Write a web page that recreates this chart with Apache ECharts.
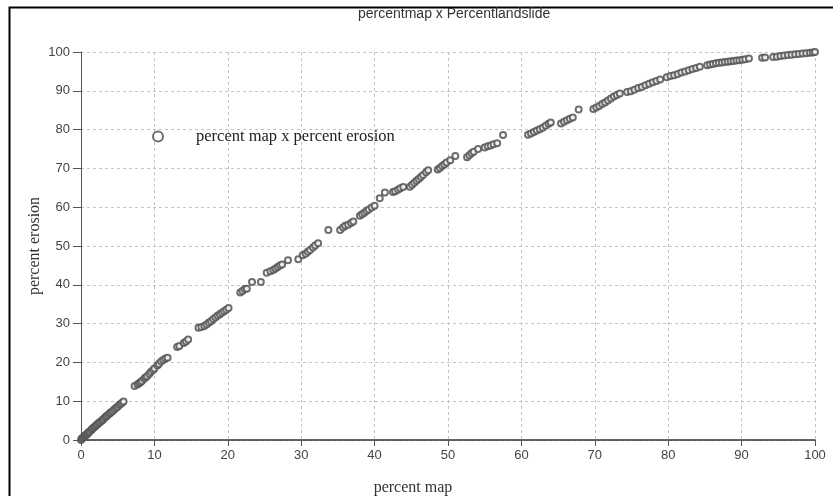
<!DOCTYPE html>
<html>
<head>
<meta charset="utf-8">
<style>
  html, body { margin: 0; padding: 0; background: #fff; }
  #chart { width: 833px; height: 496px; }
</style>
<script src="https://cdn.jsdelivr.net/npm/echarts@6/dist/echarts.min.js"></script>
</head>
<body>
<div id="chart"></div>
<script>
// percent map (x) vs percent erosion (y)
var percentMap = [
  0, 0.1, 0.2, 0.3, 0.4, 0.5, 0.6, 0.7, 0.8, 0.9, 1.0, 1.1, 1.2, 1.4, 1.5, 1.6, 1.8, 1.9, 2.1, 2.2,
  2.4, 2.5, 2.7, 2.9, 3.0, 3.2, 3.4, 3.5, 3.7, 3.9, 4.0, 4.2, 4.4, 4.6, 4.8, 5.0, 5.2, 5.4, 5.6, 5.8,
  7.3, 7.7, 7.9, 8.1, 8.3, 8.6, 8.8, 9.0, 9.3, 9.5, 9.8, 10.0, 10.4, 10.6, 10.9, 11.2, 11.5, 11.8,
  13.1, 13.4, 14.0, 14.3, 14.6,
  16.0, 16.4, 16.8, 17.1, 17.4, 17.7, 18.0, 18.3, 18.6, 18.9, 19.2, 19.5, 19.8, 20.1,
  21.7, 22.0, 22.3, 22.6, 23.3, 24.5,
  25.3, 25.8, 26.2, 26.5, 26.8, 27.1, 27.4, 28.2,
  29.6, 30.2, 30.6, 30.9, 31.2, 31.6, 31.9, 32.3,
  33.7, 35.3, 35.7, 36.0, 36.4, 36.8, 37.1,
  38.0, 38.3, 38.6, 38.9, 39.2, 39.6, 40.0,
  40.7, 41.4, 42.5, 42.8, 43.2, 43.5, 43.9,
  44.8, 45.1, 45.4, 45.7, 46.0, 46.3, 46.6, 47.0, 47.3,
  48.6, 48.9, 49.2, 49.5, 49.8, 50.3, 51.0,
  52.6, 52.9, 53.2, 53.5, 54.1,
  55.0, 55.4, 55.8, 56.2, 56.7, 57.5,
  60.9, 61.3, 61.7, 62.1, 62.5, 62.9, 63.3, 63.7, 64.0,
  65.4, 65.8, 66.2, 66.6, 67.0, 67.8,
  69.8, 70.2, 70.6, 71.0, 71.4, 71.8, 72.2, 72.6, 73.0, 73.4,
  74.4, 74.9, 75.4, 75.9, 76.4, 76.9, 77.4, 77.9, 78.4, 78.9,
  79.8, 80.3, 80.8, 81.3, 81.8, 82.3, 82.8, 83.3, 83.8, 84.3,
  85.3, 85.7, 86.1, 86.5, 86.9, 87.3, 87.7, 88.1, 88.5, 88.9, 89.3, 89.7, 90.1, 90.5, 91.0,
  92.8, 93.2,
  94.3, 94.8, 95.3, 95.8, 96.3, 96.8, 97.3, 97.8, 98.3, 98.8, 99.3, 99.7, 100
];
var percentErosion = [
  0, 0.3, 0.5, 0.6, 0.8, 1.0, 1.2, 1.3, 1.5, 1.7, 1.9, 2.1, 2.2, 2.6, 2.8, 3.0, 3.3, 3.5, 3.8, 4.0,
  4.3, 4.5, 4.8, 5.1, 5.3, 5.7, 6.0, 6.2, 6.5, 6.8, 7.0, 7.3, 7.6, 8.0, 8.3, 8.6, 9.0, 9.3, 9.6, 9.9,
  13.9, 14.3, 14.6, 14.9, 15.2, 15.8, 16.1, 16.4, 17.0, 17.5, 18.0, 18.4, 19.2, 19.6, 20.2, 20.6, 21.0, 21.2,
  24.0, 24.2, 25.0, 25.4, 25.9,
  28.9, 29.1, 29.4, 29.8, 30.2, 30.6, 31.1, 31.6, 32.0, 32.4, 32.8, 33.2, 33.6, 34.0,
  38.0, 38.4, 38.9, 39.0, 40.7, 40.7,
  43.1, 43.5, 43.8, 44.2, 44.6, 45.0, 45.2, 46.3,
  46.6, 47.6, 48.0, 48.5, 49.0, 49.6, 50.1, 50.7,
  54.1, 54.1, 54.8, 55.2, 55.5, 55.9, 56.3,
  57.8, 58.2, 58.6, 59.0, 59.4, 59.9, 60.4,
  62.3, 63.8, 63.9, 64.1, 64.5, 64.9, 65.2,
  65.3, 65.8, 66.3, 66.8, 67.3, 67.8, 68.3, 69.0, 69.5,
  69.7, 70.1, 70.6, 71.0, 71.5, 72.1, 73.2,
  72.9, 73.4, 73.9, 74.3, 75.0,
  75.4, 75.7, 75.9, 76.2, 76.5, 78.6,
  78.7, 79.0, 79.4, 79.8, 80.1, 80.5, 81.0, 81.5, 81.8,
  81.6, 82.0, 82.4, 82.8, 83.1, 85.2,
  85.3, 85.7, 86.1, 86.6, 87.0, 87.5, 88.0, 88.5, 88.9, 89.3,
  89.7, 89.9, 90.3, 90.7, 91.0, 91.4, 91.8, 92.2, 92.5, 92.9,
  93.5, 93.8, 94.0, 94.3, 94.7, 95.0, 95.3, 95.6, 95.9, 96.2,
  96.6, 96.8, 96.9, 97.1, 97.2, 97.3, 97.4, 97.5, 97.6, 97.7, 97.8, 97.9, 98.0, 98.1, 98.3,
  98.5, 98.6,
  98.7, 98.8, 99.0, 99.1, 99.2, 99.3, 99.4, 99.5, 99.6, 99.7, 99.8, 99.9, 100
];
var axisTicks = [0, 10, 20, 30, 40, 50, 60, 70, 80, 90, 100];
var seriesName = 'percent map x percent erosion';

var points = percentMap.map(function (x, i) { return [x, percentErosion[i]]; });

var sansFont = "'Liberation Sans', Arial, sans-serif";
var serifFont = "'Liberation Serif', 'DejaVu Serif', serif";
var tickFont = { fontFamily: sansFont, fontSize: 13, color: '#444' };

var myChart = echarts.init(document.getElementById('chart'));
var option = {
  backgroundColor: '#fff',
  animation: false,
  title: {
    text: 'percentmap x Percentlandslide',
    left: 358,
    top: 7,
    padding: 0,
    textStyle: { fontFamily: sansFont, fontSize: 14, fontWeight: 'normal', color: '#333' }
  },
  legend: {
    left: 147,
    top: 123,
    itemWidth: 10,
    itemHeight: 10,
    data: [{ name: seriesName, icon: 'emptyCircle' }],
    formatter: function (name) { return '{t|' + name + '}'; },
    textStyle: {
      rich: {
        t: { fontFamily: serifFont, fontSize: 16.5, color: '#222', padding: [0, 0, 0, 28] }
      }
    }
  },
  grid: { left: 81, right: 18, top: 52, bottom: 56, containLabel: false, outerBoundsMode: 'none' },
  xAxis: {
    type: 'value',
    min: 0,
    max: 100,
    interval: 10,
    name: 'percent map',
    nameLocation: 'middle',
    nameGap: 40,
    nameMoveOverlap: false,
    nameTextStyle: { fontFamily: serifFont, fontSize: 16, color: '#333', padding: [0, 70, 0, 0] },
    axisLine: { show: true, onZero: false, lineStyle: { color: '#333', width: 1.5 } },
    axisTick: { show: true, length: 6, lineStyle: { color: '#555' } },
    axisLabel: Object.assign({ margin: 9, formatter: function (v) { return axisTicks.indexOf(v) >= 0 ? v : ''; } }, tickFont),
    splitLine: { show: true, lineStyle: { color: '#c4c4c4', type: [3, 3] } }
  },
  yAxis: {
    type: 'value',
    min: 0,
    max: 100,
    interval: 10,
    name: 'percent erosion',
    nameLocation: 'middle',
    nameGap: 38,
    nameMoveOverlap: false,
    nameTextStyle: { fontFamily: serifFont, fontSize: 16, color: '#333' },
    axisLine: { show: true, onZero: false, lineStyle: { color: '#555', width: 1 } },
    axisTick: { show: true, length: 8, lineStyle: { color: '#555' } },
    axisLabel: Object.assign({ margin: 11, formatter: function (v) { return axisTicks.indexOf(v) >= 0 ? v : ''; } }, tickFont),
    splitLine: { show: true, lineStyle: { color: '#c4c4c4', type: [3, 3] } }
  },
  graphic: [{
    type: 'rect',
    left: 7,
    top: 5,
    shape: { width: 826, height: 500 },
    style: { fill: 'none', stroke: '#000', lineWidth: 2 },
    silent: true
  }],
  series: [{
    name: seriesName,
    type: 'scatter',
    symbol: 'emptyCircle',
    symbolSize: 6,
    data: points,
    itemStyle: { color: '#555', borderColor: '#555', borderWidth: 1, opacity: 0.85 }
  }]
};
myChart.setOption(option);
</script>
</body>
</html>
